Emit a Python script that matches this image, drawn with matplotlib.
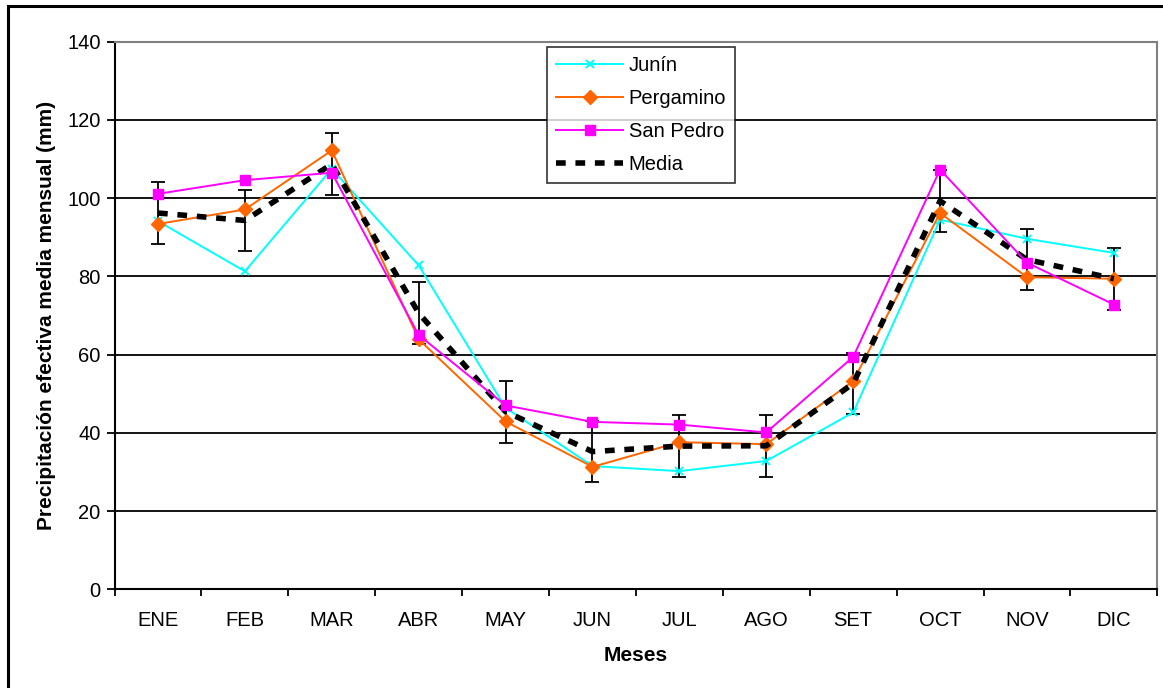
import numpy as np
import matplotlib
matplotlib.use('Agg')
from matplotlib import pyplot as plt
from matplotlib.patches import Rectangle

plt.rcParams['font.family'] = ['Liberation Sans', 'DejaVu Sans']
plt.rcParams['lines.scale_dashes'] = False

meses = ['ENE', 'FEB', 'MAR', 'ABR', 'MAY', 'JUN',
         'JUL', 'AGO', 'SET', 'OCT', 'NOV', 'DIC']
junin = [94.1, 81.3, 107.5, 82.8, 46.4, 31.5, 30.2, 32.8, 45.2, 94.5, 89.6, 86.0]
pergamino = [93.4, 97.1, 112.2, 63.9, 42.9, 31.3, 37.6, 37.1, 53.2, 96.2, 79.8, 79.4]
san_pedro = [101.1, 104.6, 106.5, 65.0, 47.0, 42.8, 42.1, 40.1, 59.4, 107.3, 83.5, 72.8]
media = [96.2, 94.3, 108.7, 70.6, 45.4, 35.2, 36.6, 36.7, 52.6, 99.3, 84.3, 79.4]
error = [7.9, 7.9, 7.9, 7.9, 7.9, 7.9, 7.9, 7.9, 7.9, 7.9, 7.9, 7.9]

x = np.arange(len(meses))

fig = plt.figure(figsize=(11.63, 6.88), dpi=100)
ax = fig.add_axes([0.0985, 0.1435, 0.8966, 0.7959])

# marco exterior del grafico
fig.patches.append(Rectangle((8 / 1163, -0.05), 1.2, 1 - 6 / 688 + 0.05,
                             transform=fig.transFigure, fill=False,
                             edgecolor='black', linewidth=2.2, zorder=0))

for y in range(20, 140, 20):
    ax.axhline(y, color='black', linewidth=1.3, zorder=1)

ax.errorbar(x, media, yerr=error, fmt='none', ecolor='black',
            elinewidth=1.3, capsize=5, capthick=1.3, zorder=2)

ax.plot(x, junin, color='#00FFFF', linewidth=1.4, marker='x',
        markersize=6, markeredgewidth=1.4, label='Junín', zorder=3)
ax.plot(x, pergamino, color='#FF6600', linewidth=1.4, marker='D',
        markersize=7, label='Pergamino', zorder=3)
ax.plot(x, media, color='black', linewidth=4, dashes=(7, 7),
        label='Media', zorder=4)
ax.plot(x, san_pedro, color='#FF00FF', linewidth=1.4, marker='s',
        markersize=7.5, label='San Pedro', zorder=5)

ax.set_xlim(-0.5, 11.5)
ax.set_ylim(0, 140)
ax.set_yticks(range(0, 141, 20))
ax.set_xticks(np.arange(-0.5, 12, 1))
ax.set_xticklabels([])
ax.set_xticks(x, minor=True)
ax.set_xticklabels(meses, minor=True)
ax.tick_params(axis='x', which='major', length=5, width=1.3, direction='out')
ax.tick_params(axis='x', which='minor', length=0, pad=16, labelsize=14.5)
ax.tick_params(axis='y', length=6, width=1.3, direction='out', labelsize=14.5, pad=4)

for lado in ['left', 'bottom']:
    ax.spines[lado].set_color('black')
    ax.spines[lado].set_linewidth(1.5)
for lado in ['top', 'right']:
    ax.spines[lado].set_color('#808080')
    ax.spines[lado].set_linewidth(1.5)

ax.set_ylabel('Precipitación efectiva media mensual (mm)', fontsize=15,
              fontweight='bold', labelpad=8)
ax.set_xlabel('Meses', fontsize=15, fontweight='bold', labelpad=11)

handles, labels = ax.get_legend_handles_labels()
orden = [0, 1, 3, 2]
leg = ax.legend([handles[i] for i in orden], [labels[i] for i in orden],
                loc='upper left', bbox_to_anchor=(0.415, 0.991),
                fontsize=14.5, frameon=True, fancybox=False,
                edgecolor='black', handlelength=3.3, handletextpad=0.3,
                borderpad=0.45, labelspacing=0.7, borderaxespad=0)
leg.get_frame().set_linewidth(1.2)

fig.savefig('out.png', dpi=100)
